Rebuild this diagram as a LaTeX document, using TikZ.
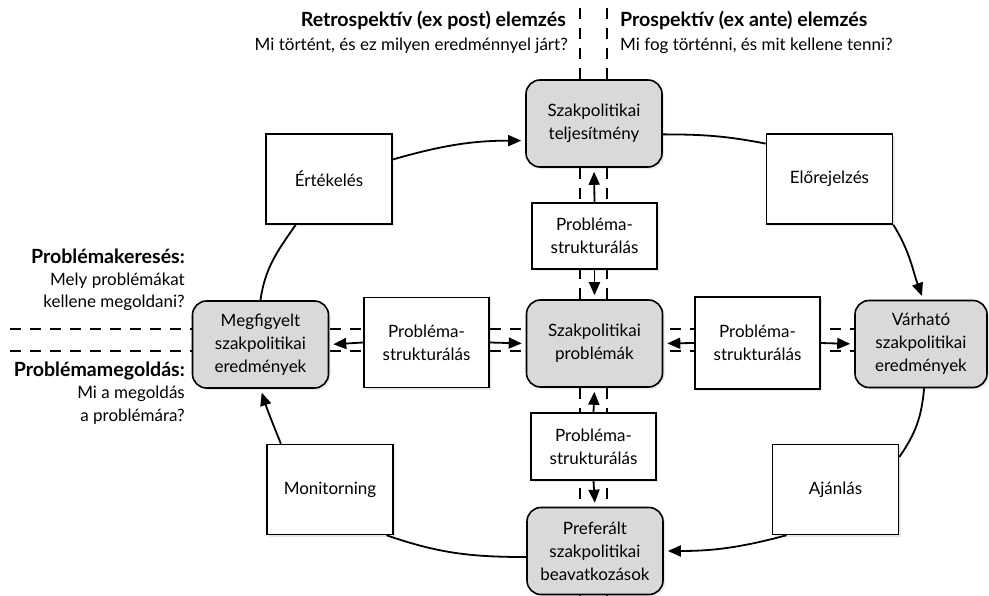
\documentclass[tikz,border=0pt]{standalone}
\usepackage{fontspec}
\setmainfont{Lato}
\usetikzlibrary{arrows.meta,shadows}
\begin{document}
\begin{tikzpicture}[x=1pt,y=-1pt,
  every node/.style={font=\fontsize{17}{23}\selectfont},
  shadowed/.style={drop shadow={opacity=0.18, shadow xshift=2pt, shadow yshift=-2pt}},
  graybox/.style={draw, line width=1.6pt, fill=black!15, rounded corners=14pt,
    minimum width=136pt, minimum height=87pt, align=center, inner sep=0pt, shadowed},
  whitebox/.style={draw, line width=1.6pt, fill=white,
    minimum width=126pt, minimum height=90pt, align=center, inner sep=0pt, shadowed},
  psbox/.style={whitebox, minimum width=125pt},
  conn/.style={line width=1.8pt},
  arr/.style={conn, -{Triangle[length=13pt,width=11pt]}, shorten >=4pt},
  divider/.style={line width=2.4pt, dash pattern=on 11pt off 9pt},
  head/.style={font=\fontsize{19.6}{23}\selectfont\bfseries, inner sep=0pt},
  sub/.style={font=\fontsize{17}{23}\selectfont, inner sep=0pt},
]
\useasboundingbox (0,0) rectangle (989,596);

% dividers
\coordinate (vl1) at (580,8);   \coordinate (vl2) at (580,596);
\coordinate (vr1) at (607,8);   \coordinate (vr2) at (607,596);
\coordinate (ht1) at (10,329);  \coordinate (ht2) at (989,329);
\coordinate (hb1) at (10,351);  \coordinate (hb2) at (989,351);
\draw[divider] (vl1) -- (vl2);
\draw[divider] (vr1) -- (vr2);
\draw[divider] (ht1) -- (ht2);
\draw[divider] (hb1) -- (hb2);

% headings
\node[head, anchor=base east] (retro) at (566,27) {Retrospektív (ex post) elemzés};
\node[sub, anchor=base east] (retrosub) at (568,51) {Mi történt, és ez milyen eredménnyel járt?};
\node[head, anchor=base west] (pro) at (620,27) {Prospektív (ex ante) elemzés};
\node[sub, anchor=base west] (prosub) at (620,51) {Mi fog történni, és mit kellene tenni?};

\node[head, anchor=base east] (pk) at (185,264) {Problémakeresés:};
\node[sub, anchor=base east] (pk1) at (185,286) {Mely problémákat};
\node[sub, anchor=base east] (pk2) at (185,308) {kellene megoldani?};
\node[head, anchor=base east] (pm) at (185,377) {Problémamegoldás:};
\node[sub, anchor=base east] (pm1) at (185,399) {Mi a megoldás};
\node[sub, anchor=base east] (pm2) at (185,421) {a problémára?};

% gray boxes
\node[graybox] (telj) at (594,123.5) {Szakpolitikai\\teljesítmény};
\node[graybox] (prob) at (594.5,343.5) {Szakpolitikai\\problémák};
\node[graybox] (pref) at (595,551) {Preferált\\szakpolitikai\\beavatkozások};
\node[graybox] (megf) at (260.5,344.5) {Megfigyelt\\szakpolitikai\\eredmények};
\node[graybox, minimum width=132pt] (varh) at (921,344) {Várható\\szakpolitikai\\eredmények};

% white boxes
\node[whitebox] (ert) at (329,179) {Értékelés};
\node[whitebox] (elo) at (829.5,179) {Előrejelzés};
\node[whitebox] (mon) at (330,489.5) {Monitorning};
\node[whitebox] (aja) at (835.5,489.5) {Ajánlás};

% problem structuring boxes
\node[psbox, minimum height=66pt] (pst) at (594.5,236) {Probléma-\\strukturálás};
\node[psbox, minimum height=67pt] (psb) at (593.5,446.5) {Probléma-\\strukturálás};
\node[psbox, minimum height=90pt] (psl) at (426.5,342.5) {Probléma-\\strukturálás};
\node[psbox, minimum height=92pt] (psr) at (757.5,343) {Probléma-\\strukturálás};

% cycle connectors
\draw[conn] (megf.north) to[out=82, in=235] (ert.-126);
\draw[arr] (ert.17) to[out=16, in=180] (telj.194);
\draw[conn] (telj.-9) to[out=0, in=169] (elo.151);
\draw[arr] (elo.south east) to[out=-58, in=110] (varh.87);
\draw[conn] (varh.-86) to[out=-95, in=55] (aja.27);
\draw[arr] (aja.-137) to[out=195, in=0] (pref.east);
\draw[conn] (pref.185) to[out=180, in=-19] (mon.-39);
\draw[arr] (mon.137) to[out=112, in=-72] (megf.south);

% problem structuring arrows
\draw[arr] (pst.north) -- (telj.south);
\draw[arr] (pst.south) -- (prob.north);
\draw[arr] (psb.north) -- (prob.south);
\draw[arr] (psb.south) -- (pref.north);
\draw[arr] (psl.west) -- (megf.east);
\draw[arr] (psl.east) -- (prob.west);
\draw[arr] (psr.west) -- (prob.east);
\draw[arr] (psr.east) -- (varh.west);
\end{tikzpicture}
\end{document}
